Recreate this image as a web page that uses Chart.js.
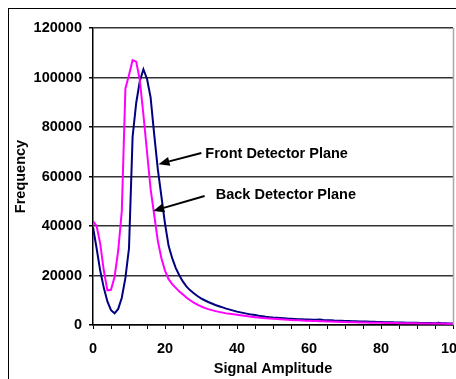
<!DOCTYPE html>
<html>
<head>
<meta charset="utf-8">
<script src="https://cdn.jsdelivr.net/npm/chart.js@4.4.1/dist/chart.umd.min.js"></script>
<style>
  html, body { margin: 0; padding: 0; overflow: hidden; background: #fff; }
  #myChart { display: block; }
</style>
</head>
<body>
<canvas id="myChart" width="520" height="379"></canvas>
<script>
// signal amplitude bins
const amplitude = [
  0, 1, 2, 3, 4, 5, 6, 7, 8, 9, 10, 11, 12, 13, 14, 15, 16, 17, 18, 19,
  20, 21, 22, 23, 24, 25, 26, 27, 28, 29, 30, 31, 32, 33, 34, 35, 36, 37, 38, 39,
  40, 41, 42, 43, 44, 45, 46, 47, 48, 49, 50, 51, 52, 53, 54, 55, 56, 57, 58, 59,
  60, 61, 62, 63, 64, 65, 66, 67, 68, 69, 70, 71, 72, 73, 74, 75, 76, 77, 78, 79,
  80, 81, 82, 83, 84, 85, 86, 87, 88, 89, 90, 91, 92, 93, 94, 95, 96, 97, 98, 99, 100
];

const frontPlane = [
  39500, 31000, 22000, 15000, 9500, 6000, 4700, 6500, 11000, 19000,
  31000, 76000, 89700, 98500, 103300, 99500, 92000, 77000, 63000, 52000,
  41000, 32000, 27000, 23000, 20000, 17500, 15500, 14000, 12800, 11700,
  10800, 10000, 9300, 8700, 8100, 7600, 7100, 6600, 6200, 5800,
  5400, 5100, 4800, 4500, 4200, 4000, 3700, 3500, 3300, 3150,
  3000, 2900, 2800, 2700, 2600, 2550, 2450, 2350, 2300, 2250,
  2200, 2150, 2100, 2200, 2000, 1950, 1900, 1800, 1750, 1700,
  1650, 1600, 1550, 1500, 1450, 1400, 1400, 1350, 1300, 1250,
  1200, 1150, 1150, 1100, 1050, 1000, 1000, 950, 950, 900,
  900, 850, 850, 800, 800, 750, 900, 700, 700, 650, 650
];

const backPlane = [
  42000, 40000, 33000, 22000, 14000, 14200, 19500, 30000, 46000, 95500,
  101000, 107000, 106400, 99000, 85000, 70000, 55000, 44500, 34000, 27000,
  22000, 18500, 16500, 15000, 13500, 12300, 11000, 10000, 9000, 8200,
  7500, 6900, 6400, 6000, 5600, 5300, 5000, 4700, 4500, 4300,
  4100, 3900, 3700, 3500, 3300, 3150, 3000, 2850, 2700, 2600,
  2500, 2400, 2300, 2200, 2100, 2050, 1950, 1900, 1850, 1750,
  1700, 1650, 1600, 1550, 1500, 1450, 1400, 1350, 1300, 1250,
  1200, 1150, 1100, 1100, 1050, 1000, 1000, 950, 950, 900,
  900, 850, 850, 800, 800, 750, 750, 750, 700, 700,
  700, 650, 650, 650, 600, 600, 600, 600, 550, 550, 550
];

const yTicks = [0, 20000, 40000, 60000, 80000, 100000, 120000];
const xLabelTicks = [0, 20, 40, 60, 80, 100];

// label text, label anchor (data units) and arrow tail/tip (data units)
const notes = [
  { text: "Front Detector Plane", at: [31.2, 69000], from: [30.1, 69500], to: [18.2, 65000] },
  { text: "Back Detector Plane", at: [34.1, 52500], from: [31.0, 52100], to: [16.7, 46100] },
];

const FONT = { family: "'Liberation Sans', Arial, sans-serif", size: 14.5, weight: "bold" };

const toPoints = (vals) => vals.map((v, i) => ({ x: amplitude[i], y: v }));

const framePlugin = {
  id: "frame",
  beforeDraw(chart) {
    const { ctx } = chart;
    ctx.save();
    ctx.fillStyle = "#fff";
    ctx.fillRect(0, 0, chart.width, chart.height);
    ctx.strokeStyle = "#000";
    ctx.lineWidth = 1;
    ctx.strokeRect(8.5, 8.5, 700, 700);
    ctx.restore();
  },
  afterDraw(chart) {
    const { ctx, chartArea, scales } = chart;
    ctx.save();
    // right edge of plot area
    ctx.strokeStyle = "#a8a8a8";
    ctx.lineWidth = 1.5;
    ctx.beginPath();
    ctx.moveTo(chartArea.right + 0.5, chartArea.top);
    ctx.lineTo(chartArea.right + 0.5, chartArea.bottom);
    ctx.stroke();

    ctx.fillStyle = "#000";
    ctx.strokeStyle = "#000";
    ctx.font = "bold 14.5px 'Liberation Sans', Arial, sans-serif";
    ctx.textAlign = "left";
    ctx.textBaseline = "middle";
    notes.forEach((n) => {
      const tx = scales.x.getPixelForValue(n.at[0]);
      const ty = scales.y.getPixelForValue(n.at[1]);
      ctx.fillText(n.text, tx, ty);

      const x1 = scales.x.getPixelForValue(n.from[0]);
      const y1 = scales.y.getPixelForValue(n.from[1]);
      const x2 = scales.x.getPixelForValue(n.to[0]);
      const y2 = scales.y.getPixelForValue(n.to[1]);
      const ang = Math.atan2(y2 - y1, x2 - x1);
      const headLen = 11;
      const hx = x2 - headLen * Math.cos(ang);
      const hy = y2 - headLen * Math.sin(ang);
      ctx.lineWidth = 2;
      ctx.beginPath();
      ctx.moveTo(x1, y1);
      ctx.lineTo(hx, hy);
      ctx.stroke();
      ctx.beginPath();
      ctx.moveTo(x2, y2);
      ctx.lineTo(hx + 4.5 * Math.sin(ang), hy - 4.5 * Math.cos(ang));
      ctx.lineTo(hx - 4.5 * Math.sin(ang), hy + 4.5 * Math.cos(ang));
      ctx.closePath();
      ctx.fill();
    });
    ctx.restore();
  },
};

const ctx = document.getElementById("myChart").getContext("2d");
new Chart(ctx, {
  type: "line",
  data: {
    datasets: [
      {
        label: "Back Detector Plane",
        data: toPoints(backPlane),
        borderColor: "#ff00ff",
        borderWidth: 2,
        pointRadius: 0,
        tension: 0,
      },
      {
        label: "Front Detector Plane",
        data: toPoints(frontPlane),
        borderColor: "#000080",
        borderWidth: 2,
        pointRadius: 0,
        tension: 0,
      },
    ],
  },
  options: {
    responsive: false,
    animation: false,
    layout: { padding: { left: 0, right: 67, top: 28, bottom: 0 } },
    plugins: {
      legend: { display: false },
      tooltip: { enabled: false },
    },
    scales: {
      x: {
        type: "linear",
        min: 0,
        max: 100,
        afterFit: (s) => { s.height = 54; },
        border: { color: "#000", width: 1.5 },
        grid: { drawOnChartArea: false, drawTicks: true, tickLength: 4, tickColor: "#000", tickWidth: 1 },
        ticks: {
          stepSize: 5,
          autoSkip: false,
          maxRotation: 0,
          padding: 11,
          color: "#000",
          font: FONT,
          callback: (v) => (xLabelTicks.includes(v) ? String(v) : ""),
        },
        title: {
          display: true,
          text: "Signal Amplitude",
          color: "#000",
          font: FONT,
          padding: { top: 0, bottom: 1 },
        },
      },
      y: {
        min: 0,
        max: 120000,
        afterFit: (s) => { s.width = 93; },
        border: { color: "#000", width: 1.5 },
        grid: { color: "#333", lineWidth: 1.5, tickLength: 4, tickColor: "#000" },
        ticks: {
          stepSize: 20000,
          padding: 7,
          color: "#000",
          font: FONT,
          callback: (v) => (yTicks.includes(v) ? String(v) : ""),
        },
        title: {
          display: true,
          text: "Frequency",
          color: "#000",
          font: FONT,
          padding: { top: 12, bottom: 0 },
        },
      },
    },
  },
  plugins: [framePlugin],
});
</script>
</body>
</html>
